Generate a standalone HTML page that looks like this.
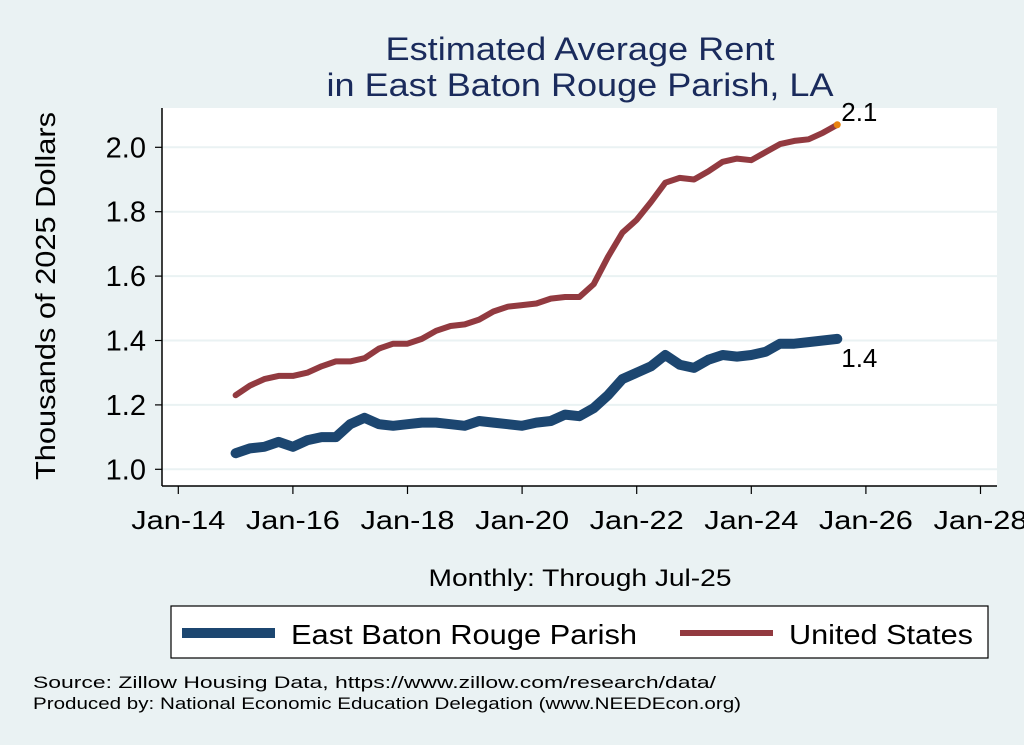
<!DOCTYPE html>
<html><head><meta charset="utf-8"><style>
html,body{margin:0;padding:0;background:#eaf2f3;}
svg{display:block;font-family:"Liberation Sans",Arial,sans-serif;}
</style></head><body>
<svg id="chart" width="1024" height="745" viewBox="0 0 1024 745">
<rect x="0" y="0" width="1024" height="745" fill="#eaf2f3"/>
<text x="580" y="60" text-anchor="middle" font-size="32" fill="#1a2b5c" textLength="389" lengthAdjust="spacingAndGlyphs">Estimated Average Rent</text>
<text x="580" y="96" text-anchor="middle" font-size="32" fill="#1a2b5c" textLength="507" lengthAdjust="spacingAndGlyphs">in East Baton Rouge Parish, LA</text>
<rect x="162" y="108" width="835" height="378" fill="#ffffff"/>
<g id="grid"></g>
<g id="series"></g>
<line x1="162" y1="108" x2="162" y2="486" stroke="#000" stroke-width="1.5"/>
<line x1="162" y1="486" x2="997" y2="486" stroke="#000" stroke-width="1.5"/>
<g id="axes"></g>
<text transform="translate(55,296) rotate(-90)" text-anchor="middle" font-size="28" fill="#000" textLength="368" lengthAdjust="spacingAndGlyphs">Thousands of 2025 Dollars</text>
<text x="580" y="586" text-anchor="middle" font-size="24" fill="#000" textLength="303" lengthAdjust="spacingAndGlyphs">Monthly: Through Jul-25</text>
<g>
<rect x="171" y="606" width="817" height="52" fill="#fff" stroke="#000" stroke-width="1.2"/>
<line x1="182" y1="633" x2="275" y2="633" stroke="#1c4670" stroke-width="10"/>
<text x="291" y="644" font-size="28" textLength="346" lengthAdjust="spacingAndGlyphs">East Baton Rouge Parish</text>
<line x1="680" y1="633" x2="773" y2="633" stroke="#923a40" stroke-width="6"/>
<text x="789" y="644" font-size="28" textLength="184" lengthAdjust="spacingAndGlyphs">United States</text>
</g>
<text x="33" y="688" font-size="17" textLength="683" lengthAdjust="spacingAndGlyphs">Source: Zillow Housing Data, https://www.zillow.com/research/data/</text>
<text x="33" y="709" font-size="17" textLength="708" lengthAdjust="spacingAndGlyphs">Produced by: National Economic Education Delegation (www.NEEDEcon.org)</text>
</svg>
<script>
// Dates in decimal years (quarterly samples), values in thousands of 2025 dollars
const dates = [2015.0,2015.25,2015.5,2015.75,2016.0,2016.25,2016.5,2016.75,2017.0,2017.25,2017.5,2017.75,2018.0,2018.25,2018.5,2018.75,2019.0,2019.25,2019.5,2019.75,2020.0,2020.25,2020.5,2020.75,2021.0,2021.25,2021.5,2021.75,2022.0,2022.25,2022.5,2022.75,2023.0,2023.25,2023.5,2023.75,2024.0,2024.25,2024.5,2024.75,2025.0,2025.25,2025.5];
const usValues = [1.23,1.26,1.28,1.29,1.29,1.30,1.32,1.335,1.335,1.345,1.375,1.39,1.39,1.405,1.43,1.445,1.45,1.465,1.49,1.505,1.51,1.515,1.53,1.535,1.535,1.575,1.66,1.735,1.775,1.83,1.89,1.905,1.90,1.925,1.955,1.965,1.96,1.985,2.01,2.02,2.025,2.045,2.07];
const ebrValues = [1.05,1.065,1.07,1.085,1.07,1.09,1.10,1.10,1.14,1.16,1.14,1.135,1.14,1.145,1.145,1.14,1.135,1.15,1.145,1.14,1.135,1.145,1.15,1.17,1.165,1.19,1.23,1.28,1.30,1.32,1.355,1.325,1.315,1.34,1.355,1.35,1.355,1.365,1.39,1.39,1.395,1.40,1.405];
const yTicks = [1.0,1.2,1.4,1.6,1.8,2.0];
const yTickLabels = ["1.0","1.2","1.4","1.6","1.8","2.0"];
const xTicks = [2014,2016,2018,2020,2022,2024,2026,2028];
const xTickLabels = ["Jan-14","Jan-16","Jan-18","Jan-20","Jan-22","Jan-24","Jan-26","Jan-28"];
const endLabels = ["1.4","2.1"];

const NS = "http://www.w3.org/2000/svg";
function xs(d){ return 178.3 + (d - 2014) * 57.3; }
function ys(v){ return 469.3 - (v - 1.0) * 322; }
function mk(tag, attrs, parent){ const e = document.createElementNS(NS, tag); for (const k in attrs) e.setAttribute(k, attrs[k]); parent.appendChild(e); return e; }

const grid = document.getElementById('grid');
const axes = document.getElementById('axes');
const series = document.getElementById('series');

yTicks.forEach((t, i) => {
  const g = mk('line', {x1:162, x2:997, y1:ys(t), y2:ys(t), stroke:'#eaf2f3', 'stroke-width':2}, grid);
  
  
  const tk = mk('line', {x1:155, x2:162, y1:ys(t), y2:ys(t), stroke:'#000', 'stroke-width':1.2}, axes);
  
  
  const lb = mk('text', {x:146, y:ys(t)+10, 'text-anchor':'end', 'font-size':29, fill:'#000'}, axes);
  lb.textContent = yTickLabels[i];
  
  
});
xTicks.forEach((t, i) => {
  const tk = mk('line', {x1:xs(t), x2:xs(t), y1:486, y2:494, stroke:'#000', 'stroke-width':1.2}, axes);
  
  
  const lb = mk('text', {x:xs(t), y:529, 'text-anchor':'middle', 'font-size':26, fill:'#000', textLength:94, lengthAdjust:'spacingAndGlyphs'}, axes);
  lb.textContent = xTickLabels[i];
  
  
});

function pathOf(vals){ return vals.map((v,i) => (i ? 'L' : 'M') + xs(dates[i]).toFixed(1) + ',' + ys(v).toFixed(1)).join(' '); }
const us = mk('path', {d:pathOf(usValues), fill:'none', stroke:'#923a40', 'stroke-width':6, 'stroke-linejoin':'round', 'stroke-linecap':'round'}, series);


const ebr = mk('path', {d:pathOf(ebrValues), fill:'none', stroke:'#1c4670', 'stroke-width':10, 'stroke-linejoin':'round', 'stroke-linecap':'round'}, series);



const last = dates.length - 1;
const dot = mk('circle', {cx:xs(dates[last]), cy:ys(usValues[last]), r:3.5, fill:'#e8820e'}, series);


const l1 = mk('text', {x:xs(dates[last])+4, y:ys(usValues[last])-4, 'font-size':26, fill:'#000'}, series);
l1.textContent = endLabels[1];


const l2 = mk('text', {x:xs(dates[last])+4, y:ys(ebrValues[last])+28, 'font-size':26, fill:'#000'}, series);
l2.textContent = endLabels[0];


</script>
</body></html>
